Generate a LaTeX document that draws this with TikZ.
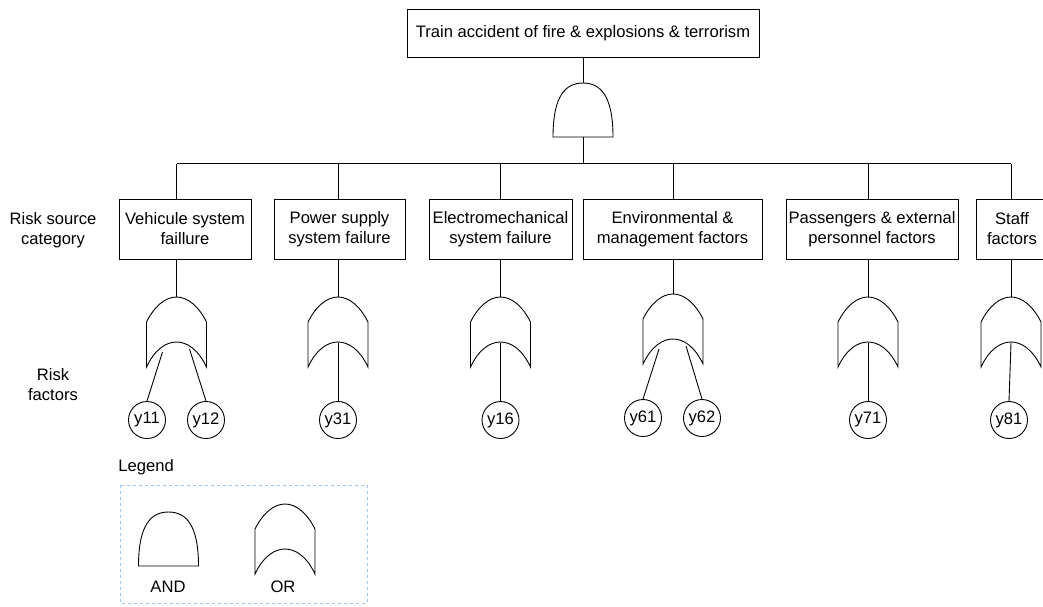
\documentclass[tikz,border=0pt]{standalone}
\usepackage{fontspec}
\setmainfont{Liberation Sans}
\usepackage{tikz}
\usetikzlibrary{calc, positioning}
\definecolor{legendblue}{RGB}{158,198,238}
\tikzset{
  txt/.style={font=\fontsize{16.6}{20}\selectfont, align=center, inner sep=0pt},
  box/.style={txt, draw, minimum height=60pt},
  leaf/.style={txt, draw, circle, minimum size=37pt},
  andgate/.pic={
    \draw (-30,54) .. controls (-30,12) and (-17,0) .. (0,0) .. controls (17,0) and (30,12) .. (30,54) -- cycle;
    \coordinate (-top) at (0,0);
    \coordinate (-bot) at (0,54);
  },
  orgate/.pic={
    \draw (-30,70) -- (-30,25) .. controls (-22,9) and (-11,0) .. (0,0) .. controls (11,0) and (22,9) .. (30,25) -- (30,70) .. controls (22,53) and (11,45) .. (0,45) .. controls (-11,45) and (-22,53) .. (-30,70) -- cycle;
    \coordinate (-top) at (0,0);
    \coordinate (-in) at (0,46);
    \coordinate (-a) at (-14,55);
    \coordinate (-b) at (13,52);
  },
}

\begin{document}
\begin{tikzpicture}[x=1pt, y=-1pt, line width=0.9pt]
  \useasboundingbox (0,0) rectangle (1043,606);
  \node[box, minimum width=352pt, minimum height=48pt] (top) at (583,33) {Train accident of fire \& explosions \& terrorism};
  \pic (gand) at (583,83) {andgate};
  \coordinate (bus) at (583,163.5);
  \draw (top.south) -- (gand-top);
  \draw (gand-bot) -- (bus);

  \node[box, minimum width=132pt] (v1) at (185,229) {Vehicule system\\faillure};
  \node[box, minimum width=131pt] (v2) at (339.5,229) {Power supply\\system failure};
  \node[box, minimum width=143pt] (v3) at (500.5,229) {Electromechanical\\system failure};
  \node[box, minimum width=179pt] (v4) at (672.5,229) {Environmental \&\\management factors};
  \node[box, minimum width=172pt] (v5) at (872,229) {Passengers \& external\\personnel factors};
  \node[box, minimum width=72pt] (v6) at (1012,229) {Staff\\factors};

  \pic (g1) at (176.5,297) {orgate};
  \pic (g2) at (338,297) {orgate};
  \pic (g3) at (500.5,297) {orgate};
  \pic (g4) at (673,294) {orgate};
  \pic (g5) at (868,297) {orgate};
  \pic (g6) at (1011,297) {orgate};

  \draw (g1-top |- bus) -- (g6-top |- bus);
  \foreach \i in {1,...,6} {
    \draw (g\i-top |- bus) -- (g\i-top |- v\i.north);
    \draw (g\i-top |- v\i.south) -- (g\i-top);
  }

  \node[leaf] (y11) at (147,420) {y11};
  \node[leaf] (y12) at (206,420) {y12};
  \node[leaf] (y31) at (338,420) {y31};
  \node[leaf] (y16) at (500.5,420) {y16};
  \node[leaf] (y61) at (643,418) {y61};
  \node[leaf] (y62) at (702,418) {y62};
  \node[leaf] (y71) at (868,420) {y71};
  \node[leaf] (y81) at (1009,420) {y81};
  \draw (g1-a) -- (y11.north);
  \draw (g1-b) -- (y12.north);
  \draw (g2-in) -- (y31.north);
  \draw (g3-in) -- (y16.north);
  \draw (g4-a) -- (y61.north);
  \draw (g4-b) -- (y62.north);
  \draw (g5-in) -- (y71.north);
  \draw (g6-in) -- (y81.north);

  \node[txt] (cat) at (53,230) {Risk source\\category};
  \node[txt] (fac) at (53,385) {Risk\\factors};

  \node[txt, anchor=west] (legend) at (118,467) {Legend};
  \draw[legendblue, dash pattern=on 3pt off 3pt] (120,485) rectangle (367,603);
  \pic (land) at (168.5,512) {andgate};
  \pic (lor) at (285,504) {orgate};
  \node[txt] (andlbl) at (168,587) {AND};
  \node[txt] (orlbl) at (283,587) {OR};
\end{tikzpicture}
\end{document}
